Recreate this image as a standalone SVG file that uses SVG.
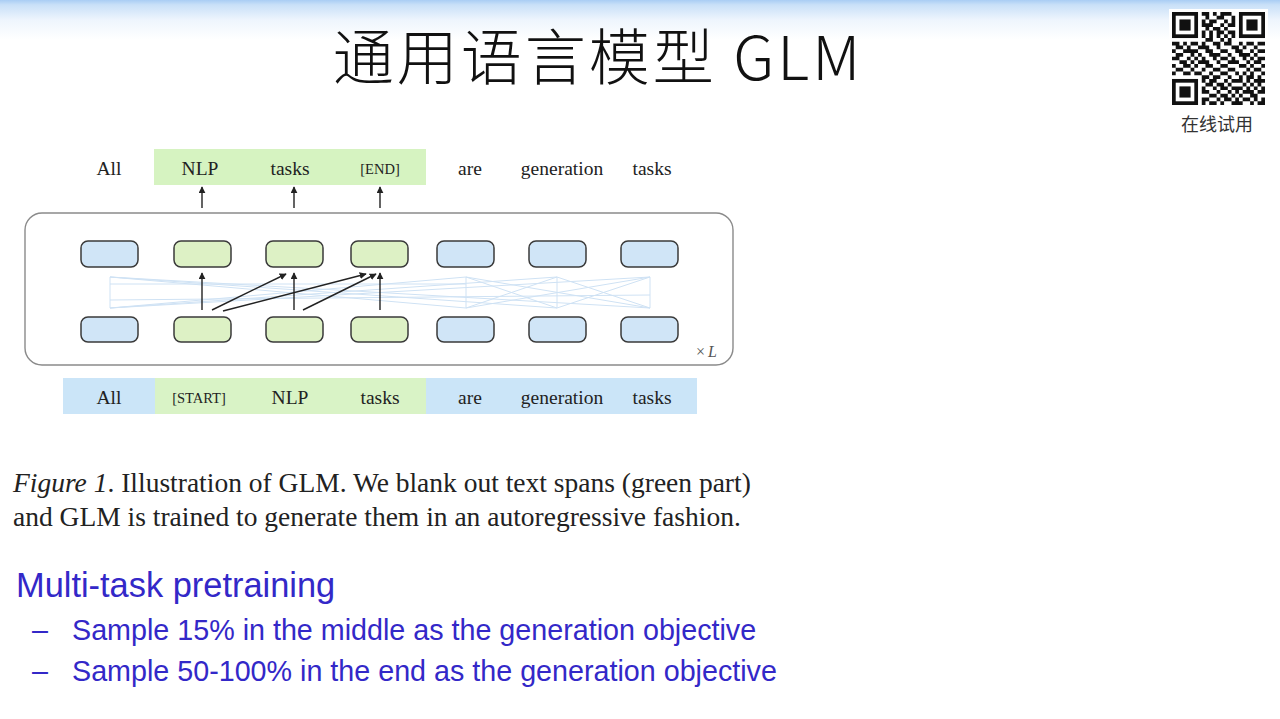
<svg xmlns="http://www.w3.org/2000/svg" width="1280" height="719" viewBox="0 0 1280 719">
<defs>
<linearGradient id="topg" x1="0" y1="0" x2="0" y2="1">
<stop offset="0" stop-color="#a9cdf4"/>
<stop offset="0.12" stop-color="#c9e0f8"/>
<stop offset="0.5" stop-color="#eef5fd"/>
<stop offset="1" stop-color="#ffffff"/>
</linearGradient>
<marker id="ah" viewBox="0 0 10 10" refX="9" refY="5" markerWidth="7" markerHeight="7" markerUnits="userSpaceOnUse" orient="auto">
<path d="M0,0 L10,5 L0,10 z" fill="#222"/>
</marker>
<style>
.serif{font-family:"Liberation Serif","Times New Roman",serif;fill:#222}
.tok{font-size:19.5px;text-anchor:middle}
.sm{font-size:14.5px;text-anchor:middle}
.nb{fill:#d0e5f7;stroke:#3a3a3a;stroke-width:1.5}
.ng{fill:#ddf1c5;stroke:#3a3a3a;stroke-width:1.5}
.att{stroke:#cfe2f4;stroke-width:1;fill:none}
.arr{stroke:#222;stroke-width:1.4;fill:none;marker-end:url(#ah)}
.blue{font-family:"Liberation Sans",Arial,sans-serif;fill:#3328c8}
</style>
</defs>
<rect width="1280" height="719" fill="#ffffff"/>
<rect width="1280" height="40" fill="url(#topg)"/>

<g id="title">
<text x="598" y="80" text-anchor="middle" font-family="'Noto Sans CJK SC','Noto Sans',sans-serif" font-weight="300" font-size="61" letter-spacing="3" fill="#111">通用语言模型 GLM</text>
</g>

<g id="qr">
<rect x="1169" y="9" width="99" height="99" fill="#fff"/>
<g transform="translate(1172,12) scale(3.72)" fill="#111">
<rect x="0" y="0" width="7" height="7"/><rect x="1" y="1" width="5" height="5" fill="#fff"/><rect x="2" y="2" width="3" height="3"/>
<rect x="18" y="0" width="7" height="7"/><rect x="19" y="1" width="5" height="5" fill="#fff"/><rect x="20" y="2" width="3" height="3"/>
<rect x="0" y="18" width="7" height="7"/><rect x="1" y="19" width="5" height="5" fill="#fff"/><rect x="2" y="20" width="3" height="3"/>
<path d="M8 0h2v1h-2zM11 0h1v1h-1zM13 0h3v1h-3z
M9 1h1v1h-1zM12 1h2v1h-2zM16 1h1v1h-1z
M8 2h1v1h-1zM10 2h2v1h-2zM14 2h1v1h-1zM16 2h1v1h-1z
M8 3h3v1h-3zM13 3h1v1h-1zM15 3h2v1h-2z
M9 4h1v1h-1zM11 4h2v1h-2zM14 4h1v1h-1z
M8 5h1v1h-1zM10 5h1v1h-1zM12 5h2v1h-2zM15 5h2v1h-2z
M8 6h1v1h-1zM10 6h1v1h-1zM12 6h1v1h-1zM14 6h1v1h-1zM16 6h1v1h-1z
M9 7h2v1h-2zM13 7h1v1h-1zM15 7h1v1h-1z
M0 8h2v1h-2zM3 8h1v1h-1zM5 8h2v1h-2zM8 8h1v1h-1zM11 8h2v1h-2zM14 8h2v1h-2zM18 8h1v1h-1zM20 8h2v1h-2zM23 8h2v1h-2z
M1 9h2v1h-2zM4 9h1v1h-1zM7 9h3v1h-3zM12 9h1v1h-1zM16 9h2v1h-2zM19 9h1v1h-1zM22 9h1v1h-1z
M0 10h1v1h-1zM3 10h4v1h-4zM9 10h2v1h-2zM13 10h2v1h-2zM17 10h2v1h-2zM21 10h1v1h-1zM23 10h2v1h-2z
M1 11h2v1h-2zM5 11h1v1h-1zM7 11h1v1h-1zM10 11h3v1h-3zM15 11h1v1h-1zM18 11h3v1h-3zM22 11h1v1h-1z
M0 12h2v1h-2zM4 12h1v1h-1zM6 12h1v1h-1zM8 12h1v1h-1zM11 12h1v1h-1zM13 12h2v1h-2zM16 12h1v1h-1zM19 12h1v1h-1zM21 12h1v1h-1zM23 12h2v1h-2z
M2 13h2v1h-2zM5 13h1v1h-1zM7 13h3v1h-3zM12 13h1v1h-1zM15 13h3v1h-3zM20 13h1v1h-1zM22 13h2v1h-2z
M0 14h1v1h-1zM3 14h2v1h-2zM6 14h1v1h-1zM9 14h2v1h-2zM13 14h2v1h-2zM18 14h2v1h-2zM21 14h1v1h-1zM24 14h1v1h-1z
M1 15h2v1h-2zM5 15h1v1h-1zM8 15h1v1h-1zM11 15h2v1h-2zM15 15h2v1h-2zM20 15h1v1h-1zM22 15h2v1h-2z
M0 16h1v1h-1zM3 16h2v1h-2zM6 16h2v1h-2zM10 16h1v1h-1zM13 16h2v1h-2zM17 16h1v1h-1zM19 16h1v1h-1zM21 16h1v1h-1zM24 16h1v1h-1z
M8 17h2v1h-2zM11 17h2v1h-2zM15 17h1v1h-1zM18 17h1v1h-1zM20 17h2v1h-2zM23 17h1v1h-1z
M8 18h1v1h-1zM10 18h2v1h-2zM14 18h1v1h-1zM16 18h3v1h-3zM20 18h1v1h-1zM22 18h3v1h-3z
M9 19h2v1h-2zM12 19h2v1h-2zM15 19h1v1h-1zM19 19h1v1h-1zM21 19h1v1h-1zM23 19h1v1h-1z
M8 20h1v1h-1zM11 20h1v1h-1zM13 20h2v1h-2zM16 20h3v1h-3zM20 20h1v1h-1zM22 20h1v1h-1zM24 20h1v1h-1z
M8 21h2v1h-2zM12 21h1v1h-1zM15 21h1v1h-1zM17 21h1v1h-1zM19 21h3v1h-3zM23 21h2v1h-2z
M10 22h2v1h-2zM13 22h2v1h-2zM16 22h1v1h-1zM18 22h1v1h-1zM21 22h2v1h-2z
M8 23h2v1h-2zM12 23h1v1h-1zM14 23h2v1h-2zM17 23h1v1h-1zM19 23h2v1h-2zM22 23h1v1h-1zM24 23h1v1h-1z
M8 24h1v1h-1zM10 24h2v1h-2zM13 24h1v1h-1zM16 24h3v1h-3zM21 24h1v1h-1zM23 24h2v1h-2z"/>
</g>
<text x="1217" y="131" text-anchor="middle" font-family="'Noto Sans CJK SC','Noto Sans',sans-serif" font-size="18" fill="#333">在线试用</text>
</g>

<g id="diagram">
<rect x="154" y="149" width="272" height="36" fill="#d6f3c1"/>
<g id="top-labels">
<text class="serif tok" x="109" y="175">All</text>
<text class="serif tok" x="200" y="175">NLP</text>
<text class="serif tok" x="290" y="175">tasks</text>
<text class="serif sm" x="380" y="174">[END]</text>
<text class="serif tok" x="470" y="175">are</text>
<text class="serif tok" x="562" y="175">generation</text>
<text class="serif tok" x="652" y="175">tasks</text>
</g>

<rect id="layer-box" x="25" y="213" width="708" height="152" rx="17" fill="none" stroke="#8a8a8a" stroke-width="1.4"/>
<text x="696" y="357" font-family="'Liberation Serif',serif" font-size="16" fill="#555">×<tspan font-style="italic" dx="3">L</tspan></text>

<g id="connectors">
<g class="att">
<path d="M110 277V308M466 277V308M557 277V308M650 277V308"/>
<path d="M110 308L466 277M110 308L557 277M110 308L650 277M110 277L466 308M110 277L557 308M110 277L650 308"/>
<path d="M466 308L557 277M466 308L650 277M557 308L466 277M557 308L650 277M650 308L466 277M650 308L557 277"/>
<path d="M110 284L466 284M110 300L650 295"/>
</g>
<line class="arr" x1="202" y1="208" x2="202" y2="187"/>
<line class="arr" x1="294" y1="208" x2="294" y2="187"/>
<line class="arr" x1="380" y1="208" x2="380" y2="187"/>
<line class="arr" x1="202" y1="310" x2="202" y2="273"/>
<line class="arr" x1="294" y1="310" x2="294" y2="273"/>
<line class="arr" x1="380" y1="310" x2="380" y2="273"/>
<line class="arr" x1="212" y1="310" x2="286" y2="274"/>
<line class="arr" x1="223" y1="311" x2="366" y2="274"/>
<line class="arr" x1="303" y1="310" x2="376" y2="274"/>
</g>

<g id="top-row">
<rect id="t1" class="nb" x="81" y="241" width="57" height="26" rx="7"/>
<rect id="t2" class="ng" x="174" y="241" width="57" height="26" rx="7"/>
<rect id="t3" class="ng" x="266" y="241" width="57" height="26" rx="7"/>
<rect id="t4" class="ng" x="351" y="241" width="57" height="26" rx="7"/>
<rect id="t5" class="nb" x="437" y="241" width="57" height="26" rx="7"/>
<rect id="t6" class="nb" x="529" y="241" width="57" height="26" rx="7"/>
<rect id="t7" class="nb" x="621" y="241" width="57" height="26" rx="7"/>
</g>
<g id="bottom-row">
<rect id="b1" class="nb" x="81" y="317" width="57" height="25" rx="7"/>
<rect id="b2" class="ng" x="174" y="317" width="57" height="25" rx="7"/>
<rect id="b3" class="ng" x="266" y="317" width="57" height="25" rx="7"/>
<rect id="b4" class="ng" x="351" y="317" width="57" height="25" rx="7"/>
<rect id="b5" class="nb" x="437" y="317" width="57" height="25" rx="7"/>
<rect id="b6" class="nb" x="529" y="317" width="57" height="25" rx="7"/>
<rect id="b7" class="nb" x="621" y="317" width="57" height="25" rx="7"/>
</g>

<g id="input-bar">
<rect x="63" y="378" width="634" height="36" fill="#cbe5f8"/>
<rect x="155" y="378" width="271" height="36" fill="#d9f3c6"/>
<text class="serif tok" x="109" y="404">All</text>
<text class="serif sm" x="199" y="403">[START]</text>
<text class="serif tok" x="290" y="404">NLP</text>
<text class="serif tok" x="380" y="404">tasks</text>
<text class="serif tok" x="470" y="404">are</text>
<text class="serif tok" x="562" y="404">generation</text>
<text class="serif tok" x="652" y="404">tasks</text>
</g>
</g>

<g id="caption" class="serif" font-size="27.5">
<text x="13" y="492"><tspan font-style="italic">Figure 1</tspan>. Illustration of GLM. We blank out text spans (green part)</text>
<text x="13" y="526">and GLM is trained to generate them in an autoregressive fashion.</text>
</g>

<g id="bullets">
<text class="blue" x="16" y="597" font-size="34.4">Multi-task pretraining</text>
<text class="blue" x="32" y="640" font-size="28.7">–</text>
<text class="blue" x="72" y="640" font-size="28.7">Sample 15% in the middle as the generation objective</text>
<text class="blue" x="32" y="681" font-size="28.7">–</text>
<text class="blue" x="72" y="681" font-size="28.7">Sample 50-100% in the end as the generation objective</text>
</g>
</svg>
